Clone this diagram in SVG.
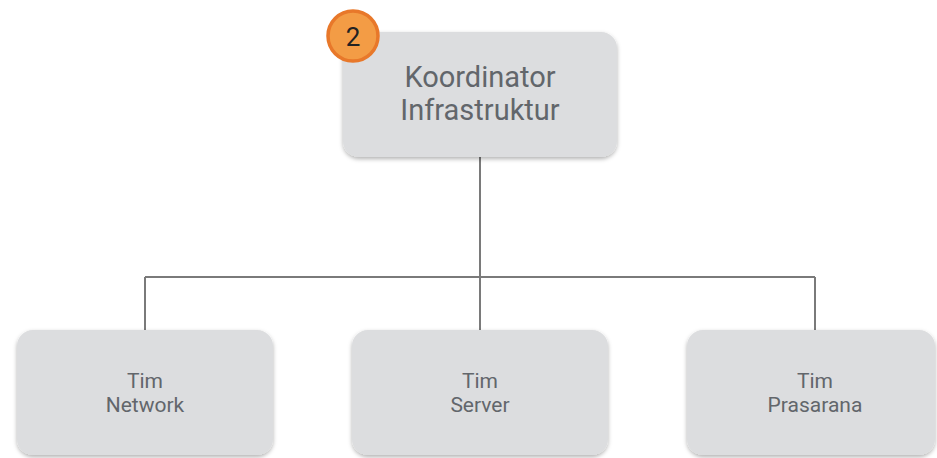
<svg xmlns="http://www.w3.org/2000/svg" width="937" height="458" viewBox="0 0 937 458">
<defs>
<filter id="sh" x="-10%" y="-10%" width="120%" height="130%">
<feDropShadow dx="0" dy="2" stdDeviation="2" flood-color="#000" flood-opacity="0.3"/>
</filter>
<style>
.box{fill:#dcdddf;filter:url(#sh)}
.t1{font-family:Roboto,"Liberation Sans",sans-serif;font-size:29px;fill:#62666b;text-anchor:middle}
.t2{font-family:Roboto,"Liberation Sans",sans-serif;font-size:21px;fill:#62666b;text-anchor:middle}
.ln{stroke:#7a7a7a;stroke-width:2;fill:none}
</style>
</defs>
<rect width="937" height="458" fill="#fff"/>
<g id="connectors">
<path class="ln" d="M480 157V277M145 277H815M145 277V330M480 277V330M815 277V330"/>
</g>
<g id="koordinator">
<rect class="box" x="343" y="32" width="274" height="125" rx="16"/>
<text class="t1" x="480" y="87">Koordinator</text>
<text class="t1" x="480" y="120">Infrastruktur</text>
</g>
<g id="badge">
<circle cx="353" cy="36" r="25" fill="#f39c45" stroke="#e8782a" stroke-width="3.5"/>
<text x="353" y="46" font-family="Roboto,'Liberation Sans',sans-serif" font-size="26" fill="#222" text-anchor="middle">2</text>
</g>
<g id="tim-network">
<rect class="box" x="17" y="330" width="256" height="125" rx="16"/>
<text class="t2" x="145" y="388">Tim</text>
<text class="t2" x="145" y="412">Network</text>
</g>
<g id="tim-server">
<rect class="box" x="352" y="330" width="256" height="125" rx="16"/>
<text class="t2" x="480" y="388">Tim</text>
<text class="t2" x="480" y="412">Server</text>
</g>
<g id="tim-prasarana">
<rect class="box" x="687" y="330" width="248" height="125" rx="16"/>
<text class="t2" x="815" y="388">Tim</text>
<text class="t2" x="815" y="412">Prasarana</text>
</g>
</svg>
